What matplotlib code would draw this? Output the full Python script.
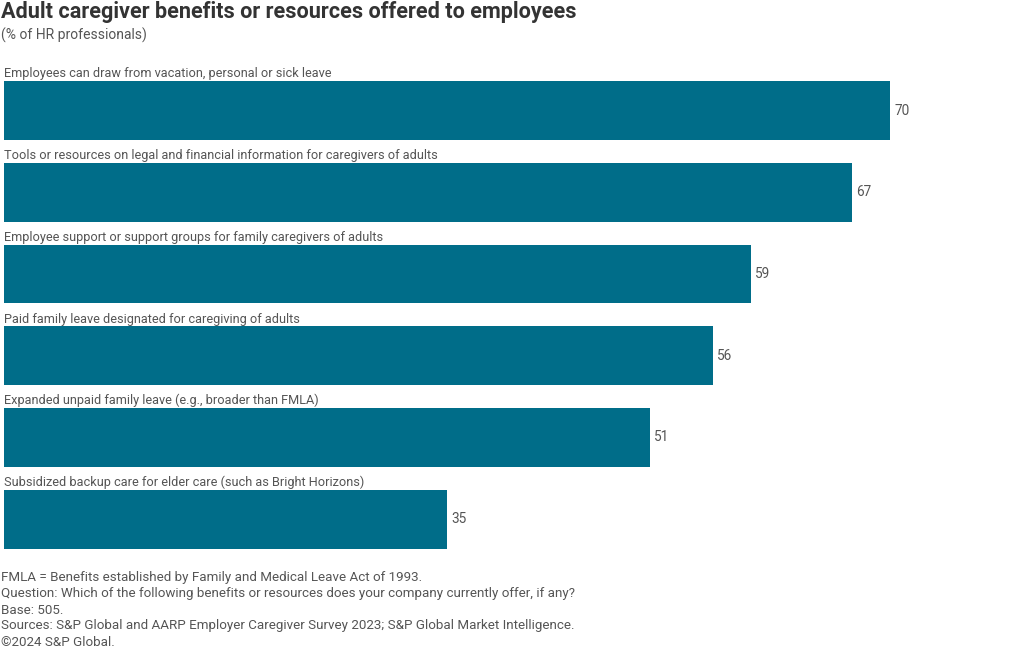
import matplotlib
matplotlib.use("Agg")
import matplotlib.pyplot as plt

# data
categories = [
    "Employees can draw from vacation, personal or sick leave",
    "Tools or resources on legal and financial information for caregivers of adults",
    "Employee support or support groups for family caregivers of adults",
    "Paid family leave designated for caregiving of adults",
    "Expanded unpaid family leave (e.g., broader than FMLA)",
    "Subsidized backup care for elder care (such as Bright Horizons)",
]
values = [70, 67, 59, 56, 51, 35]

title = "Adult caregiver benefits or resources offered to employees"
subtitle = "(% of HR professionals)"
notes = [
    "FMLA = Benefits established by Family and Medical Leave Act of 1993.",
    "Question: Which of the following benefits or resources does your company currently offer, if any?",
    "Base: 505.",
    "Sources: S&P Global and AARP Employer Caregiver Survey 2023; S&P Global Market Intelligence.",
    "\u00a92024 S&P Global.",
]

bar_color = "#006D89"
text_color = "#555555"
title_color = "#333333"

plt.rcParams['font.family'] = ['Roboto', 'DejaVu Sans']

W, H = 1020, 650
fig = plt.figure(figsize=(W / 100, H / 100), dpi=100)

# axes placed in pixel terms
x_max = 80
ax_w = x_max * (886 / 70) / W
top_px, bot_px = 60, 560
ax = fig.add_axes([4 / W, 1 - bot_px / H, ax_w, (bot_px - top_px) / H])

ypos = list(range(len(values)))
bar_h = 0.72
ax.barh(ypos, values, height=bar_h, color=bar_color)
ax.set_xlim(0, x_max)
ax.set_ylim(5.5, -0.62)
ax.axis('off')

for y, v, lab in zip(ypos, values, categories):
    ax.text(0, y - bar_h / 2 - 0.01, lab, ha='left', va='bottom',
            fontsize=9.2, color=text_color)
    ax.text(v + 0.35, y, str(v), ha='left', va='center',
            fontsize=9.8, color=text_color)

fig.text(1 / W, 1 - 12 / H, title, ha='left', va='center',
         fontsize=15.6, fontweight='bold', color=title_color)
fig.text(1 / W, 1 - 35 / H, subtitle, ha='left', va='center',
         fontsize=10, color=text_color)

for i, line in enumerate(notes):
    fig.text(1 / W, 1 - (578 + 16 * i) / H, line, ha='left', va='center',
             fontsize=9.6, color=text_color)

fig.savefig("out.png", dpi=100, facecolor="white")
